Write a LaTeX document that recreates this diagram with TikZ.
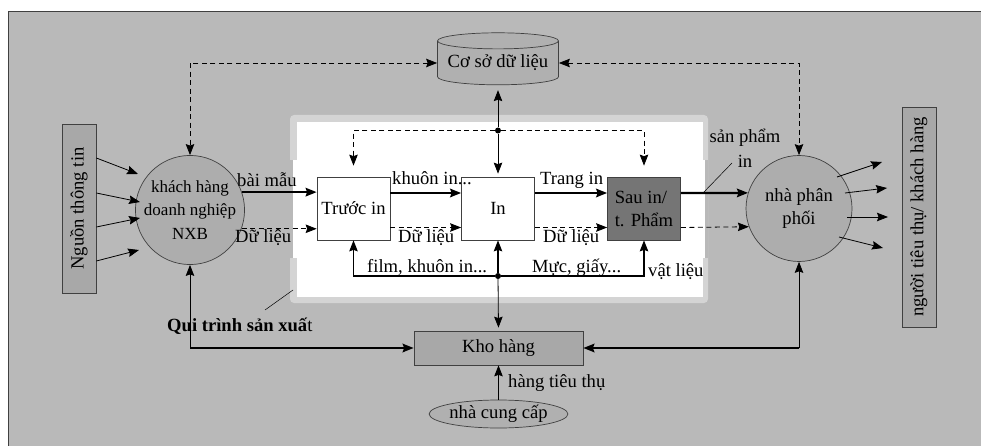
\documentclass[tikz,border=0pt]{standalone}
\usepackage{fontspec}
\setmainfont{Liberation Serif}
\usepackage{tikz}
\usetikzlibrary{arrows.meta,positioning,shapes.geometric}
\definecolor{panelg}{gray}{0.725}
\definecolor{frameg}{gray}{0.83}
\definecolor{bubbleg}{gray}{0.68}
\definecolor{tagg}{gray}{0.66}
\definecolor{dbg}{gray}{0.69}
\definecolor{postg}{gray}{0.46}
\definecolor{edgeg}{gray}{0.25}
\newcommand{\figfont}{\fontsize{18.6}{23}\selectfont}
\tikzset{
  every picture/.append style={font=\figfont},
  proc/.style   = {draw=edgeg, line width=0.7pt, fill=white,
                   minimum width=73pt, minimum height=63pt, inner sep=0pt},
  bubble/.style = {circle, draw=edgeg, line width=0.7pt, fill=bubbleg,
                   inner sep=0pt, align=center},
  tag/.style    = {draw=edgeg, line width=0.7pt, fill=tagg, rotate=90,
                   minimum height=34pt, inner sep=0pt},
  jdot/.style   = {circle, fill=black, inner sep=0pt, minimum size=6pt},
  lab/.style    = {inner sep=0pt, anchor=base west},
  thn/.style    = {line width=0.8pt},
  bot/.style    = {line width=1.2pt},
  arrK/.style   = {line width=2.2pt},
  dsh/.style    = {line width=0.8pt, dash pattern=on 5pt off 3.5pt},
  lead/.style   = {line width=0.5pt},
}

\begin{document}
\begin{tikzpicture}[x=1pt, y=-1pt,
    >={Stealth[length=11pt, width=8.5pt, inset=1.5pt]}]
  \useasboundingbox (0,0) rectangle (981,446);
  % panel
  \fill[panelg] (8,11.5) rectangle (981,446);
  \draw[edgeg, line width=1.4pt] (8.5,452) -- (8.5,11.5) -- (990,11.5);
  % production frame, open where the flows come in and go out
  \fill[frameg, rounded corners=4pt] (290,115) rectangle (708,303);
  \fill[white] (297,122) rectangle (703,297);
  \fill[panelg] (290,160) rectangle (293,258);
  \fill[white] (293,160) rectangle (297,258);
  \fill[white] (703,160) rectangle (705,258);
  \fill[panelg] (705,160) rectangle (708,258);

  \node[tag, minimum width=169pt] (src) at (79,208.5) {Nguồn thông tin};
  \node[tag, minimum width=220pt] (dst) at (919,217) {người tiêu thụ/ khách hàng};
  \node[bubble, minimum size=104pt, font=\fontsize{17}{23.5}\selectfont]
       (kh) at (190,210) {khách hàng\\doanh nghiệp\\NXB};
  \node[bubble, minimum size=106pt] (npp) at (799,208.5) {nhà phân\\phối};
  \node[cylinder, shape border rotate=90, aspect=0.16, draw=edgeg,
        line width=0.7pt, fill=dbg, minimum width=121pt, minimum height=52pt,
        inner sep=0pt] (db) at (498,63) {Cơ sở dữ liệu};
  \node[proc] (pre) at (353.5,208.5) {Trước in};
  \node[proc] (prn) at (498,208.5) {In};
  \node[proc, fill=postg, align=left] (post) at (644,208.5) {Sau in/\\t. Phẩm};
  \node[draw=edgeg, line width=0.7pt, fill=tagg, minimum width=169pt,
        minimum height=34pt, inner sep=0pt] (kho) at (498.5,348) {Kho hàng};
  \node[ellipse, draw=edgeg, line width=0.7pt, fill=dbg, minimum width=131pt,
        minimum height=28pt, inner sep=0pt] (ncc) at (498.5,414) {nhà cung cấp};
  \node[jdot] (jt) at (498,130.5) {};
  \node[jdot] (jb) at (498,276) {};

  % data links
  \draw[dsh, <->] (db.west) -| (kh.north);
  \draw[dsh, <->] (db.east) -| (npp.north);
  \draw[thn, ->, shorten >=5pt] (jt) -- (db.south);
  \draw[thn, ->, shorten >=3pt] (jt) -- (prn.north);
  \draw[dsh, ->, shorten >=11pt] (jt) -| (pre.north);
  \draw[dsh, ->, shorten >=11pt] (jt) -| (post.north);

  % inputs and outputs
  \foreach \ya/\xb/\yb in {158/138/174, 193/140/202, 227/140/218, 261/139/250}
    \draw[thn, ->] (src.south |- 0,\ya) -- (\xb,\yb);
  \foreach \xa/\ya/\xb/\yb in {837/177/882/162, 845/193/887/188,
                               847/217/888/217, 839/237/883/248}
    \draw[thn, ->] (\xa,\ya) -- (\xb,\yb);

  % main flow
  \draw[arrK, ->] (kh.19) -- (kh.19 -| pre.west);
  \draw[dsh, ->] (kh.-20) -- (kh.-20 -| pre.west);
  \draw[arrK, ->] ([yshift=15.5pt]pre.east) -- ([yshift=15.5pt]prn.west);
  \draw[dsh, ->] ([yshift=-19pt]pre.east) -- ([yshift=-19pt]prn.west);
  \draw[arrK, ->] ([yshift=15.5pt]prn.east) -- ([yshift=15.5pt]post.west);
  \draw[dsh, ->] ([yshift=-19pt]prn.east) -- ([yshift=-19pt]post.west);
  \draw[arrK, ->] ([yshift=15.5pt]post.east) -- (npp.163);
  \draw[dsh, ->] ([yshift=-19pt]post.east) -- (npp.200);

  % materials
  \draw[bot, ->] (jb) -| (pre.south);
  \draw[bot, ->] (jb) -- (prn.south);
  \draw[bot, ->] (jb) -| (post.south);
  \draw[thn, ->, shorten >=3pt] (jb) -- (kho.north);

  % warehouse
  \coordinate (kL) at (kh.south |- kho.west);
  \coordinate (kR) at (npp.south |- kho.east);
  \draw[thn, ->] (kL) -- (kh.south);
  \draw[arrK, ->] (kL) -- (kho.west);
  \draw[thn, ->] (kR) -- (npp.south);
  \draw[arrK, ->] (kR) -- (kho.east);
  \draw[thn, ->] (ncc.north) -- (kho.south);

  % labels
  \node[lab] at (237,187) {bài mẫu};
  \node[lab] at (235,242) {Dữ liệu};
  \node[lab] at (392,185) {khuôn in...};
  \node[lab] at (398,242) {Dữ liệu};
  \node[lab] at (540,185) {Trang in};
  \node[lab] at (543,242) {Dữ liệu};
  \node[lab] at (367,272) {film, khuôn in...};
  \node[lab] at (532,272) {Mực, giấy...};
  \node[lab] at (648,276) {vật liệu};
  \node[lab] at (508,387.5) {hàng tiêu thụ};
  \node[align=center, inner sep=0pt, font=\fontsize{18.6}{24.6}\selectfont]
       (splab) at (745,148) {sản phẩm\\in};
  \node[lab] (qlab) at (167,331.5) {\textbf{Qui trình sản xuấ}t};
  \fill[frameg] (703,258) rectangle (708,297);

  \coordinate (spA) at (703,193);
  \coordinate (spB) at (732,163);
  \draw[lead] (spA) -- (spB);
  \coordinate (qA) at (265,310);
  \coordinate (qB) at (293,290);
  \draw[lead] (qA) -- (qB);
\end{tikzpicture}
\end{document}
